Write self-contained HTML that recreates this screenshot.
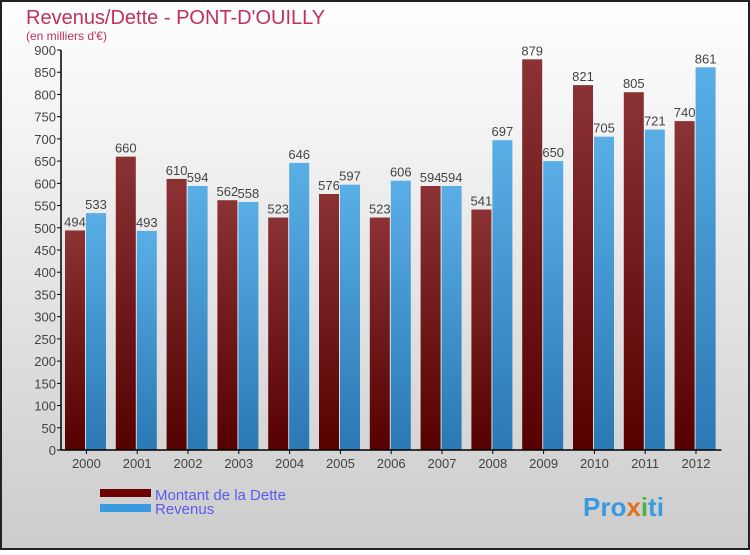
<!DOCTYPE html>
<html><head><meta charset="utf-8"><style>
body{margin:0}
#c{width:750px;height:550px;position:relative;font-family:"Liberation Sans",sans-serif}
</style></head><body>
<div id="c">
<svg id="s" width="750" height="550" xmlns="http://www.w3.org/2000/svg">
<defs>
<linearGradient id="bg" x1="0" y1="0" x2="0" y2="1"><stop offset="0" stop-color="#ffffff"/><stop offset="1" stop-color="#cccccc"/></linearGradient>
<linearGradient id="gd" x1="0" y1="0" x2="0" y2="1"><stop offset="0" stop-color="#8a3234"/><stop offset="1" stop-color="#560000"/></linearGradient>
<linearGradient id="gr" x1="0" y1="0" x2="0" y2="1"><stop offset="0" stop-color="#5aaee6"/><stop offset="1" stop-color="#2a78b4"/></linearGradient>
</defs>
<rect x="1" y="1" width="748" height="548" fill="url(#bg)" stroke="#222" stroke-width="2"/>
<text x="26" y="24" font-size="20" fill="#c0305a">Revenus/Dette - PONT-D'OUILLY</text>
<text x="26" y="40" font-size="12" fill="#c0305a">(en milliers d'€)</text>
<g id="plot"></g>
<rect x="100" y="489" width="51" height="8" fill="#6a0000"/>
<rect x="100" y="504" width="51" height="8" fill="#3a9ae0"/>
<text x="155" y="500" font-size="15" fill="#5a5af0">Montant de la Dette</text>
<text x="155" y="514" font-size="15" fill="#5a5af0">Revenus</text>
<text x="583" y="516" font-size="26" font-weight="bold" fill="#3a9ae0">Pro<tspan fill="#e07020">x</tspan><tspan fill="#50b040">i</tspan>ti</text>
</svg>
</div>
<script>
const years=["2000","2001","2002","2003","2004","2005","2006","2007","2008","2009","2010","2011","2012"];
const dette=[494,660,610,562,523,576,523,594,541,879,821,805,740];
const revenus=[533,493,594,558,646,597,606,594,697,650,705,721,861];
const yTicks=[0,50,100,150,200,250,300,350,400,450,500,550,600,650,700,750,800,850,900];
const NS="http://www.w3.org/2000/svg";
const g=document.getElementById('plot');
const x0=61,step=50.8,y0=450,yMax=900,h=400;
const y=v=>y0-v/yMax*h;
function mk(t,a){const e=document.createElementNS(NS,t);for(const k in a)e.setAttribute(k,a[k]);g.appendChild(e);return e;}
yTicks.forEach(v=>{
 const l=mk('line',{x1:x0-4,x2:x0,y1:y(v),y2:y(v),stroke:'#000'});
 
 
 const t=mk('text',{x:x0-5,y:y(v)+5,'font-size':13,'text-anchor':'end',fill:'#444'});
 t.textContent=v;
 
 
});
years.forEach((yr,i)=>{
 const gx=x0+step*i;
 const d=mk('rect',{x:gx+4,y:y(dette[i]),width:20,height:y0-y(dette[i]),fill:'url(#gd)'});
 
 
 const r=mk('rect',{x:gx+25,y:y(revenus[i]),width:20,height:y0-y(revenus[i]),fill:'url(#gr)'});
 
 
 const t1=mk('text',{x:gx+14,y:y(dette[i])-4,'font-size':13,'text-anchor':'middle',fill:'#444'});
 t1.textContent=dette[i];
 
 
 const t2=mk('text',{x:gx+35,y:y(revenus[i])-4,'font-size':13,'text-anchor':'middle',fill:'#444'});
 t2.textContent=revenus[i];
 
 
 const tk=mk('line',{x1:gx+step/2,x2:gx+step/2,y1:y0,y2:y0+4,stroke:'#000'});
 
 
 const xl=mk('text',{x:gx+step/2,y:y0+18,'font-size':13,'text-anchor':'middle',fill:'#444'});
 xl.textContent=yr;
 
 
});
const ax=mk('line',{x1:x0,x2:x0,y1:y(yMax),y2:y0,stroke:'#000','stroke-width':1.5});


const bx=mk('line',{x1:x0,x2:x0+step*years.length,y1:y0,y2:y0,stroke:'#000','stroke-width':1.5});


</script>
</body></html>
